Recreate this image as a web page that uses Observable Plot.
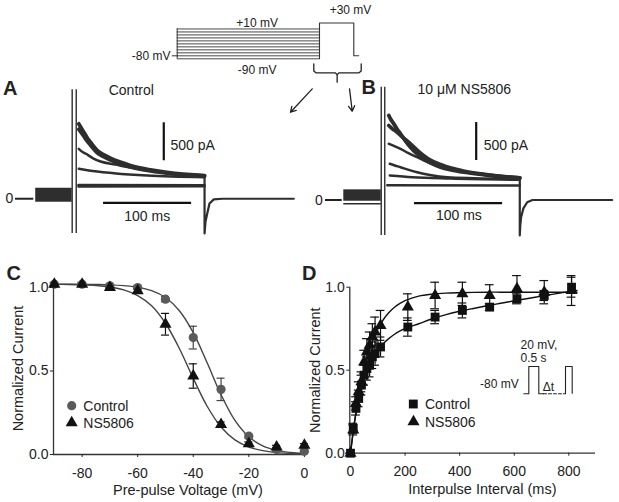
<!DOCTYPE html>
<html><head><meta charset="utf-8">
<script src="https://cdn.jsdelivr.net/npm/d3@7"></script>
<script src="https://cdn.jsdelivr.net/npm/@observablehq/plot@0.6"></script>
<style>
html,body{margin:0;padding:0;background:#fff;}
#fig{position:relative;width:619px;height:502px;overflow:hidden;background:#fff;font-family:"Liberation Sans",Arial,Helvetica,sans-serif;color:#222;}
#fig > svg{position:absolute;overflow:visible;}
</style></head><body><div id="fig"></div>
<script>
// ---------------- DATA ----------------
// Top protocol (schematic: time units, mV)
const protoLevels = [-90,-80,-70,-60,-50,-40,-30,-20,-10,0,10];
const protoHoldT = [-35, 0], protoHoldV = [-80, -80];
const protoPrepulseT = [0, 1000];
const protoTestT = [1000, 1000, 1241, 1241, 1275];
const protoTestV = [-90, 30, 30, -80, -80];

// Panel A current traces (ms, pA)
const sweepsA_t = [
  [1.9,4.5,7.6,11,15.2,22.8,30,37.9,48,60.6,83.3,106,125,144.7],
  [1.9,4.5,7.6,11,15.2,22.8,30,37.9,48,60.6,83.3,106,125,144.7],
  [1.9,5,9.5,18.6,26.6,43.6,60.6,83.3,106,144.7],
  [1.9,13.3,41.7,79.6,144.7],
  [1.5,144.7],
  [1.5,144.7]
];
const sweepsA_i = [
  [986,935,876,810,744,635,580,533,485,437,380,341,320,305],
  [915,875,825,765,705,605,555,510,465,420,367,332,312,298],
  [657,625,595,529,490,450,411,371,336,299],
  [394,371,336,305,283],
  [180,178],
  [160,165]
];
const tailA_t = [144.7,144.7,145.8,147.7,150.3,155.2,165,246];
const tailA_i = [305,-458,-300,-199,-63,-8,0,0];
const preA_t = [-47,-5.6], preA_i = [-46,138];
const spikeA_t = [-5.6,-1.0], spikeA_i = [-458,1434];

// Panel B current traces (ms, pA)
const sweepsB_t = [
  [3.2,5.5,8.9,12.5,16.5,22,27.8,35,42.9,51,61.9,74,88.3,103,118.7,135,151.9],
  [3.2,7,12.7,20,27.8,35,42.6,51,61.9,74,88,110,151.9],
  [3.2,9,16.5,25,35.4,46,58.1,72,88,115,151.9],
  [4.3,10,16.5,25,35.4,50,69.5,100,151.9],
  [4.3,30,73.2,151.9],
  [1.5,151.9]
];
const sweepsB_i = [
  [1113,1060,1003,935,872,780,695,610,542,485,432,396,366,343,323,306,292],
  [981,940,893,815,740,660,586,520,467,420,382,340,290],
  [740,712,674,620,564,505,454,410,375,330,283],
  [477,455,432,400,366,330,300,288,279],
  [323,300,283,266],
  [193,191]
];
const tailB_t = [151.9,151.9,152.5,153.4,156,160.3,166.3,256.8];
const tailB_i = [292,-467,-330,-226,-110,-29,0,0];
const preB_t = [-47.9,-5.4], preB_i = [-16,134], preB_line = -50;
const spikeB_t = [-5.4,-1.4], spikeB_i = [-467,1485];

// Panel C: steady-state inactivation
const prepulseV = [-90,-80,-70,-60,-50,-40,-30,-20,-10,0];
const ssiControl = [1.02,1.02,1.01,1.00,0.93,0.70,0.39,0.11,0.03,0.02];
const ssiControlSem = [0.01,0.01,0.01,0.01,0.015,0.068,0.067,0.012,0.01,0.01];
const ssiNS = [1.02,1.02,1.00,0.98,0.78,0.47,0.18,0.065,0.045,0.055];
const ssiNSSem = [0.01,0.01,0.01,0.015,0.065,0.073,0.015,0.01,0.01,0.01];
const fitVolt = [-90,-85,-80,-75,-70,-65,-60,-55,-50,-45,-40,-35,-30,-25,-20,-15,-10,-5,0];
const fitControl = [1.02,1.02,1.019,1.018,1.016,1.011,1.002,0.981,0.940,0.861,0.730,0.549,0.358,0.204,0.106,0.052,0.025,0.012,0.005];
const fitNS = [1.019,1.018,1.016,1.012,1.003,0.986,0.952,0.891,0.786,0.635,0.456,0.289,0.165,0.088,0.045,0.023,0.011,0.006,0.003];
const cTicksX = [-80,-60,-40,-20,0];
const cTicksY = [0,0.5,1.0];

// Panel D: recovery from inactivation
const intervalMs = [0,10,20,30,40,50,60,70,80,90,110,210,310,410,510,610,710,810];
const recControl = [0,0.15,0.27,0.33,0.41,0.47,0.51,0.53,0.58,0.60,0.64,0.76,0.82,0.86,0.88,0.93,0.95,1.00];
const recControlSem = [0,0.03,0.04,0.05,0.06,0.06,0.07,0.07,0.07,0.07,0.06,0.055,0.04,0.045,0.02,0.03,0.03,0.06];
const recNS = [0,0.14,0.30,0.37,0.43,0.55,0.61,0.65,0.70,0.73,0.77,0.88,0.95,0.96,0.95,0.99,0.97,0.98];
const recNSSem = [0,0.03,0.04,0.06,0.06,0.07,0.08,0.08,0.08,0.09,0.09,0.08,0.08,0.07,0.065,0.08,0.07,0.09];
const fitMs = [0,10,20,30,40,50,60,70,80,90,100,120,140,160,180,200,250,300,350,400,450,500,550,600,650,700,750,800,830];
const fitRecControl = [0,0.13,0.24,0.32,0.39,0.45,0.50,0.54,0.575,0.60,0.625,0.66,0.69,0.715,0.735,0.75,0.78,0.81,0.835,0.855,0.872,0.888,0.903,0.918,0.932,0.946,0.96,0.973,0.98];
const fitRecNS = [0,0.133,0.247,0.346,0.432,0.505,0.568,0.624,0.672,0.712,0.747,0.804,0.846,0.878,0.901,0.919,0.946,0.958,0.964,0.967,0.969,0.97,0.97,0.97,0.97,0.97,0.97,0.97,0.97];
const dTicksX = [0,200,400,600,800];
const dTicksY = [0,0.5,1.0];

// Panel D inset protocol (schematic)
const insetSolid1T = [-250,0,0,500,500,735], insetSolid1V = [-80,-80,20,20,-80,-80];
const insetDashT = [735,1735], insetDashV = [-80,-80];
const insetSolid2T = [1735,1835,1835,2170,2170], insetSolid2V = [-80,-80,20,20,-78];

// ---------------- DRAW ----------------
const F = '"Liberation Sans", Arial, Helvetica, sans-serif';
const INK = "#222", TRACE = "#2e2e2e";
const fig = document.getElementById("fig");
function place(el, left, top){ el.style.left = left + "px"; el.style.top = top + "px"; fig.appendChild(el); }
const baseStyle = {fontFamily: F, fontSize: "14px", background: "transparent", overflow: "visible", color: INK};
const zip = (xs, ys) => xs.map((x, j) => ({x, y: ys[j]}));

// Protocol
const bracket = [
  {k:0,x:960,y:-106.8},{k:0,x:960,y:-131},{k:0,x:975,y:-137},{k:0,x:1110,y:-137},{k:0,x:1124,y:-143},{k:0,x:1124,y:-168.4},
  {k:1,x:1293,y:-106.8},{k:1,x:1293,y:-131},{k:1,x:1278,y:-137},{k:1,x:1138,y:-137},{k:1,x:1124,y:-143}
];
const protocol = Plot.plot({
  width: 260, height: 120, margin: 0,
  x: {domain: [0, 1000], range: [56.7, 199], axis: null},
  y: {domain: [-90, 30], range: [58.3, 22.5], axis: null},
  style: {...baseStyle, fontSize: "12px"},
  marks: [
    Plot.ruleY(protoLevels, {x1: protoPrepulseT[0], x2: protoPrepulseT[1], stroke: "#333", strokeWidth: 0.9}),
    Plot.ruleX([protoPrepulseT[0]], {y1: d3.min(protoLevels), y2: d3.max(protoLevels), stroke: "#333", strokeWidth: 1}),
    Plot.line(zip(protoHoldT, protoHoldV), {x: "x", y: "y", stroke: "#333", strokeWidth: 1}),
    Plot.line(zip(protoTestT, protoTestV), {x: "x", y: "y", stroke: "#333", strokeWidth: 1.1}),
    Plot.line(bracket, {x: "x", y: "y", z: "k", stroke: INK, strokeWidth: 1.3}),
    Plot.arrow([{x1: 949, y1: -190.7, x2: 796, y2: -269}, {x1: 1211, y1: -190.7, x2: 1230, y2: -265.8}],
      {x1: "x1", y1: "y1", x2: "x2", y2: "y2", stroke: INK, strokeWidth: 1.3, headLength: 7}),
    Plot.text([{x: 562, y: 10, s: "+10 mV"}], {x: "x", y: "y", text: "s", dy: -5.5, fill: INK}),
    Plot.text([{x: 562, y: -90, s: "-90 mV"}], {x: "x", y: "y", text: "s", dy: 11, fill: INK}),
    Plot.text([{x: 1218, y: 30, s: "+30 mV"}], {x: "x", y: "y", text: "s", dy: -12.5, fill: INK}),
    Plot.text([{x: -47, y: -80, s: "-80 mV"}], {x: "x", y: "y", text: "s", textAnchor: "end", fill: INK})
  ]
});
place(protocol, 120, 0);

function tracePlot(o){
  const rows = (ts, is, ks) => ks.flatMap(k => ts[k].map((t, j) => ({k, t, i: is[k][j]})));
  const band = rows(o.sweepsT, o.sweepsI, [0, 1]);
  const rest = rows(o.sweepsT, o.sweepsI, d3.range(2, o.sweepsT.length));
  const marks = [
    Plot.rect([0], {x1: o.preT[0], x2: o.preT[1], y1: o.preI[0], y2: o.preI[1], fill: TRACE}),
    Plot.ruleX(o.spikeT, {y1: o.spikeI[0], y2: o.spikeI[1], stroke: TRACE, strokeWidth: 1.4}),
    Plot.line(band, {x: "t", y: "i", z: "k", stroke: TRACE, strokeWidth: 3.8, curve: "monotone-x"}),
    Plot.line(rest, {x: "t", y: "i", z: "k", stroke: TRACE, strokeWidth: 2.5, curve: "monotone-x"}),
    Plot.line(zip(o.tailT, o.tailI), {x: "x", y: "y", stroke: TRACE, strokeWidth: 2.2}),
    Plot.ruleY([0], {x1: o.zeroDash[0], x2: o.zeroDash[1], stroke: INK, strokeWidth: 2}),
    Plot.text([{x: o.zeroText, y: 0}], {x: "x", y: "y", text: () => "0", fill: INK}),
    Plot.ruleX([o.barV.t], {y1: o.barV.i[0], y2: o.barV.i[1], stroke: "#111", strokeWidth: 2.2}),
    Plot.ruleY([o.barH.i], {x1: o.barH.t[0], x2: o.barH.t[1], stroke: "#111", strokeWidth: 2.2}),
    Plot.text([o.lblPA], {x: "t", y: "i", text: () => "500 pA", textAnchor: "start", fill: INK}),
    Plot.text([o.lblMs], {x: "t", y: "i", text: () => "100 ms", fill: INK}),
    Plot.text([o.lblTitle], {x: "t", y: "i", text: "s", fill: INK})
  ];
  if (o.preLine !== undefined) marks.splice(1, 0, Plot.ruleY([o.preLine], {x1: o.preT[0], x2: o.preT[1], stroke: TRACE, strokeWidth: 1.6}));
  return Plot.plot({
    width: o.width, height: 180, margin: 0,
    x: {domain: o.xDomain, axis: null},
    y: {domain: o.yDomain, axis: null},
    style: baseStyle,
    marks
  });
}

const trA = tracePlot({
  width: 310, xDomain: [-87, 265], yDomain: [-550, 1820],
  sweepsT: sweepsA_t, sweepsI: sweepsA_i, tailT: tailA_t, tailI: tailA_i,
  preT: preA_t, preI: preA_i, spikeT: spikeA_t, spikeI: spikeA_i,
  zeroDash: [-70, -49.2], zeroText: -76.8,
  barV: {t: 98.4, i: [500, 1000]}, barH: {i: -54, t: [30, 130]},
  lblPA: {t: 106, i: 700}, lblMs: {t: 79.6, i: -234}, lblTitle: {t: 61.5, i: 1425, s: "Control"}
});
place(trA, 0, 60);

const trB = tracePlot({
  width: 309, xDomain: [-85.7, 265.1], yDomain: [-533, 1837],
  sweepsT: sweepsB_t, sweepsI: sweepsB_i, tailT: tailB_t, tailI: tailB_i,
  preT: preB_t, preI: preB_i, preLine: preB_line, spikeT: spikeB_t, spikeI: spikeB_i,
  zeroDash: [-68.7, -49.7], zeroText: -76.3,
  barV: {t: 102.4, i: [520, 1020]}, barH: {i: -42, t: [32.4, 132.4]},
  lblPA: {t: 111, i: 717}, lblMs: {t: 82.7, i: -204}, lblTitle: {t: 88.9, i: 1451, s: "10 μM NS5806"}
});
place(trB, 310, 60);

// Panel C
const cCtl = prepulseV.map((v, j) => ({v, y: ssiControl[j], e: ssiControlSem[j]}));
const cNS = prepulseV.map((v, j) => ({v, y: ssiNS[j], e: ssiNSSem[j]}));
const cFit = [...fitVolt.map((v, j) => ({s: 0, v, y: fitControl[j]})), ...fitVolt.map((v, j) => ({s: 1, v, y: fitNS[j]}))];
const cCap = 1.45;
const errMarks = (rows, xk, cap, stroke) => [
  Plot.ruleX(rows, {x: xk, y1: d => d.y - d.e, y2: d => d.y + d.e, stroke, strokeWidth: 1.2}),
  Plot.ruleY(rows, {y: d => d.y + d.e, x1: d => d[xk] - cap, x2: d => d[xk] + cap, stroke, strokeWidth: 1.2}),
  Plot.ruleY(rows, {y: d => d.y - d.e, x1: d => d[xk] - cap, x2: d => d[xk] + cap, stroke, strokeWidth: 1.2})
];
const axisLabelX = (s, dx, dy) => Plot.text([s], {frameAnchor: "bottom", text: d => d, textAnchor: "middle", lineAnchor: "middle", dx, dy, fontSize: 14.5, fill: INK});
const axisLabelY = (s, dx) => Plot.text([s], {frameAnchor: "left", text: d => d, textAnchor: "middle", lineAnchor: "middle", rotate: -90, dx, fontSize: 14.5, fill: INK});

const plotC = Plot.plot({
  width: 310, height: 232,
  marginLeft: 53, marginRight: 6.1, marginTop: 12, marginBottom: 48,
  x: {domain: [-90.3, 0], label: null},
  y: {domain: [0, 1.03], label: null},
  style: baseStyle,
  marks: [
    Plot.ruleY([0], {x1: -90.3, x2: 0, stroke: "#333", strokeWidth: 1.3}),
    Plot.ruleX([-90.3], {y1: 0, y2: 1.025, stroke: "#333", strokeWidth: 1.3}),
    Plot.axisX({ticks: cTicksX, tickSize: 3, tickPadding: 11, tickFormat: d => String(d), fontSize: 14, label: null, fill: INK}),
    Plot.axisY({ticks: cTicksY, tickSize: 3, tickPadding: 2, tickFormat: d3.format(".1f"), fontSize: 14, label: null, fill: INK}),
    Plot.line(cFit, {x: "v", y: "y", z: "s", stroke: "#444", strokeWidth: 1.4, curve: "catmull-rom"}),
    ...errMarks(cCtl, "v", cCap, "#444"),
    ...errMarks(cNS, "v", cCap, "#111"),
    Plot.dot(cCtl, {x: "v", y: "y", r: 4.6, fill: "#5a5a5a"}),
    Plot.dot(cNS, {x: "v", y: "y", r: 4.5, symbol: "triangle", fill: "#111"}),
    axisLabelX("Pre-pulse Voltage (mV)", 9, 36),
    axisLabelY("Normalized Current", -35)
  ]
});
place(plotC, 0, 270);

// Panel D
const dCtl = intervalMs.map((t, j) => ({t, y: recControl[j], e: recControlSem[j]}));
const dNS = intervalMs.map((t, j) => ({t, y: recNS[j], e: recNSSem[j]}));
const dFit = [...fitMs.map((t, j) => ({s: 0, t, y: fitRecControl[j]})), ...fitMs.map((t, j) => ({s: 1, t, y: fitRecNS[j]}))];
const dCap = 16;
const plotD = Plot.plot({
  width: 309, height: 232,
  marginLeft: 39.3, marginRight: 24, marginTop: 16.7, marginBottom: 49.3,
  x: {domain: [-2.6, 897.8], label: null},
  y: {domain: [0, 1], label: null},
  style: baseStyle,
  marks: [
    Plot.ruleY([0], {x1: -2.6, x2: 897.8, stroke: "#333", strokeWidth: 1.3}),
    Plot.ruleX([-2.6], {y1: 0, y2: 1, stroke: "#333", strokeWidth: 1.3}),
    Plot.axisX({ticks: dTicksX, tickSize: 3, tickPadding: 10, tickFormat: d => String(d), fontSize: 14, label: null, fill: INK}),
    Plot.axisY({ticks: dTicksY, tickSize: 3, tickPadding: 2, tickFormat: d3.format(".1f"), fontSize: 14, label: null, fill: INK}),
    ...errMarks(dNS, "t", dCap, "#111"),
    ...errMarks(dCtl, "t", dCap, "#111"),
    Plot.line(dFit, {x: "t", y: "y", z: "s", stroke: "#111", strokeWidth: 1.4, curve: "catmull-rom"}),
    Plot.dot(dNS, {x: "t", y: "y", r: 4.5, symbol: "triangle", fill: "#111"}),
    Plot.dot(dCtl, {x: "t", y: "y", r: 5, symbol: "square", fill: "#111"}),
    axisLabelX("Interpulse Interval (ms)", 9.7, 36.6),
    axisLabelY("Normalized Current", -34.8)
  ]
});
place(plotD, 310, 270);

// Panel D inset protocol
const inset = Plot.plot({
  width: 110, height: 80, margin: 0,
  x: {domain: [0, 500], range: [48.3, 58.3], axis: null},
  y: {domain: [-80, 20], range: [63.3, 36], axis: null},
  style: {...baseStyle, fontSize: "12px"},
  marks: [
    Plot.line(zip(insetSolid1T, insetSolid1V), {x: "x", y: "y", stroke: "#222", strokeWidth: 1.1}),
    Plot.line(zip(insetDashT, insetDashV), {x: "x", y: "y", stroke: "#222", strokeWidth: 1.1, strokeDasharray: "3,2"}),
    Plot.line(zip(insetSolid2T, insetSolid2V), {x: "x", y: "y", stroke: "#222", strokeWidth: 1.1}),
    Plot.text([{x: -415, y: 97, s: "20 mV,"}, {x: -415, y: 49.3, s: "0.5 s"}], {x: "x", y: "y", text: "s", textAnchor: "start", fill: INK}),
    Plot.text([{x: -500, y: -80, s: "-80 mV"}], {x: "x", y: "y", text: "s", textAnchor: "end", dy: -10, fill: INK}),
    Plot.text([{x: 985, y: -80, s: "Δt"}], {x: "x", y: "y", text: "s", dy: -7, fill: INK})
  ]
});
place(inset, 480, 330);

// Overlay: panel letters and legends
const ov = d3.create("svg").attr("width", 619).attr("height", 502)
  .style("font-family", F).style("pointer-events", "none");
[["A", 3, 95], ["B", 361.5, 94], ["C", 6.5, 280], ["D", 302, 280]].forEach(([s, x, y]) =>
  ov.append("text").attr("x", x).attr("y", y).attr("font-size", 20).attr("font-weight", "bold").attr("fill", "#222").text(s));
const sym = (type, r) => d3.symbol(type, Math.PI * r * r)();
function legendItem(type, r, fill, x, y, label, tx){
  ov.append("path").attr("d", sym(type, r)).attr("transform", `translate(${x},${y})`).attr("fill", fill);
  ov.append("text").attr("x", tx).attr("y", y + 5).attr("font-size", 14).attr("fill", "#222").text(label);
}
legendItem(d3.symbolCircle, 4.6, "#5a5a5a", 71.7, 405.7, "Control", 83.3);
legendItem(d3.symbolTriangle, 4.5, "#111", 71.7, 422.7, "NS5806", 83.3);
legendItem(d3.symbolSquare, 5, "#111", 413.3, 404, "Control", 425);
legendItem(d3.symbolTriangle, 4.5, "#111", 413.5, 421.7, "NS5806", 425);
place(ov.node(), 0, 0);
</script></body></html>
